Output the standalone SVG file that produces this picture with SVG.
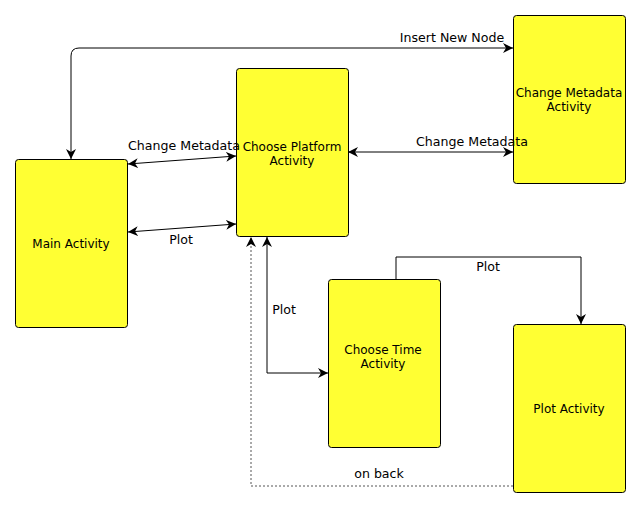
<svg xmlns="http://www.w3.org/2000/svg" width="640" height="509" viewBox="0 0 640 509">
<style>
.node{fill:#ffff33;stroke:#000;stroke-width:1}
.lbl{font-family:"DejaVu Sans",sans-serif;font-size:12.6px;fill:#000;text-anchor:middle}
.nl{font-family:"DejaVu Sans",sans-serif;font-size:12px;fill:#000;text-anchor:middle}
.edge{fill:none;stroke:#000;stroke-width:1}
.dot{fill:none;stroke:#555;stroke-width:1;stroke-dasharray:2,2}
</style>
<defs>
<marker id="ah" viewBox="0 0 10 10" refX="10" refY="5" markerWidth="10" markerHeight="10" markerUnits="userSpaceOnUse" orient="auto-start-reverse">
<path d="M0,0 L10,5 L0,10 L3,5 z" fill="#000"/>
</marker>
</defs>
<g id="main">
<rect class="node" x="15.5" y="159.5" width="112" height="168" rx="3"/>
<text class="nl" x="71" y="248">Main Activity</text>
</g>
<g id="platform">
<rect class="node" x="236.5" y="68.5" width="112" height="168" rx="3"/>
<text class="nl" x="292" y="151">Choose Platform</text>
<text class="nl" x="292" y="165">Activity</text>
</g>
<g id="metadata">
<rect class="node" x="513.5" y="15.5" width="112" height="168" rx="3"/>
<text class="nl" x="569" y="97">Change Metadata</text>
<text class="nl" x="569" y="111">Activity</text>
</g>
<g id="time">
<rect class="node" x="328.5" y="279.5" width="112" height="168" rx="3"/>
<text class="nl" x="383" y="354">Choose Time</text>
<text class="nl" x="383" y="368">Activity</text>
</g>
<g id="plot">
<rect class="node" x="513.5" y="324.5" width="112" height="168" rx="3"/>
<text class="nl" x="569" y="413">Plot Activity</text>
</g>
<g id="connectors">
<path class="edge" d="M513,48 L79,48 Q71,48 71,56 L71,159" marker-start="url(#ah)" marker-end="url(#ah)"/>
<line class="edge" x1="128" y1="164" x2="236" y2="156" marker-start="url(#ah)" marker-end="url(#ah)"/>
<text class="lbl" x="184" y="150">Change Metadata</text>
<line class="edge" x1="236" y1="224" x2="128" y2="232" marker-start="url(#ah)" marker-end="url(#ah)"/>
<text class="lbl" x="181" y="244">Plot</text>
<line class="edge" x1="348" y1="152" x2="513" y2="152" marker-start="url(#ah)" marker-end="url(#ah)"/>
<text class="lbl" x="472" y="146">Change Metadata</text>
<text class="lbl" x="452" y="42">Insert New Node</text>
<path class="edge" d="M267,237 L267,373 L328,373" marker-start="url(#ah)" marker-end="url(#ah)"/>
<text class="lbl" x="284" y="314">Plot</text>
<path class="edge" d="M396,279 L396,257 L581,257 L581,324" marker-end="url(#ah)"/>
<text class="lbl" x="488" y="271">Plot</text>
<path class="dot" d="M513,486 L251,486 L251,237" marker-end="url(#ah)"/>
<text class="lbl" x="379" y="478">on back</text>
</g>
</svg>
